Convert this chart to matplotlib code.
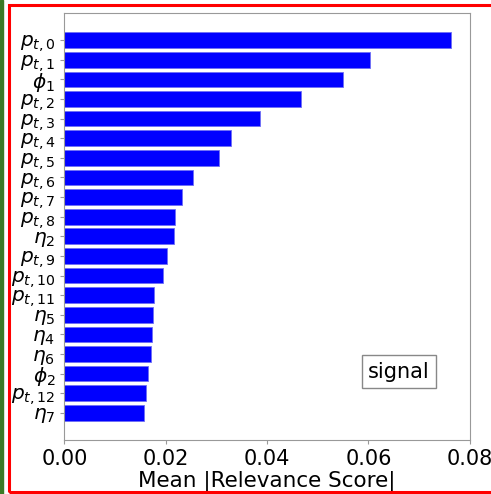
import numpy as np
import matplotlib
matplotlib.use("Agg")
import matplotlib.pyplot as plt
from matplotlib.patches import Rectangle

features = [r"$p_{t,0}$", r"$p_{t,1}$", r"$\phi_1$", r"$p_{t,2}$",
            r"$p_{t,3}$", r"$p_{t,4}$", r"$p_{t,5}$", r"$p_{t,6}$",
            r"$p_{t,7}$", r"$p_{t,8}$", r"$\eta_2$", r"$p_{t,9}$",
            r"$p_{t,10}$", r"$p_{t,11}$", r"$\eta_5$", r"$\eta_4$",
            r"$\eta_6$", r"$\phi_2$", r"$p_{t,12}$", r"$\eta_7$"]
relevance = [0.0763, 0.0603, 0.0550, 0.0467, 0.0386, 0.0328, 0.0305, 0.0254,
             0.0233, 0.0218, 0.0216, 0.0203, 0.0195, 0.0177, 0.0174, 0.0172,
             0.0170, 0.0166, 0.0162, 0.0158]
x_ticks = [0.00, 0.02, 0.04, 0.06, 0.08]

fig = plt.figure(figsize=(4.91, 4.94), dpi=100)
ax = fig.add_axes([0.131, 0.109, 0.826, 0.865])

pos = np.arange(len(features))
ax.barh(pos, relevance, height=0.8, color="blue", edgecolor="#6f6ff5", linewidth=0.6)
ax.invert_yaxis()
ax.set_yticks(pos)
ax.set_yticklabels(features, fontsize=14.5)
ax.set_xticks(x_ticks)
ax.set_xticklabels(["%.2f" % t for t in x_ticks], fontsize=15)
ax.set_xlim(0, 0.08)
ax.set_xlabel("Mean |Relevance Score|", fontsize=15.5, labelpad=1)

for s in ax.spines.values():
    s.set_color("#999999")
ax.tick_params(colors="#999999", labelcolor="black", length=3)

ax.text(0.0660, 16.9, "signal", fontsize=15, ha="center", va="center",
        bbox=dict(boxstyle="square,pad=0.3", facecolor="white", edgecolor="#888888"))

# screenshot frame
fig.patches.append(Rectangle((0, 0), 3.3 / 491, 1, transform=fig.transFigure,
                             color="#3b7a25", zorder=5))
fig.patches.append(Rectangle((8.5 / 491, 2.5 / 494), 1.2, 1 - 7.5 / 494,
                             transform=fig.transFigure, fill=False,
                             edgecolor="red", linewidth=2.2, zorder=5))

fig.savefig("out.png", dpi=100)
